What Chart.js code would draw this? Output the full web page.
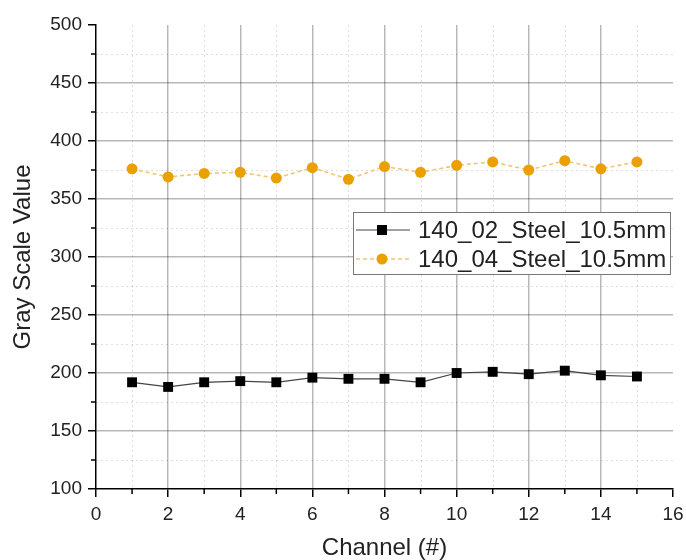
<!DOCTYPE html>
<html>
<head>
<meta charset="utf-8">
<script src="https://cdn.jsdelivr.net/npm/chart.js@4"></script>
<style>
  html, body { margin: 0; padding: 0; background: #fff; }
  #wrap { width: 686px; height: 560px; }
</style>
</head>
<body>
<div id="wrap"><canvas id="myChart" width="686" height="560"></canvas></div>
<script>
const channels = [1, 2, 3, 4, 5, 6, 7, 8, 9, 10, 11, 12, 13, 14, 15];
const steel02 = [192, 188, 192, 193, 192, 196, 195, 195, 192, 200, 201, 199, 202, 198, 197];
const steel04 = [376, 369, 372, 373, 368, 377, 367, 378, 373, 379, 382, 375, 383, 376, 382];
const seriesNames = ['140_02_Steel_10.5mm', '140_04_Steel_10.5mm'];

const FONT = "'Liberation Sans', Arial, sans-serif";
const majorGrid = 'rgba(0,0,0,0.28)';
const minorGrid = 'rgba(0,0,0,0.13)';

// dotted minor grid + short minor ticks
const minorLayer = {
    id: 'minorLayer',
    beforeDatasetsDraw: (chart) => {
        const { ctx, chartArea: { top, bottom, left, right }, scales: { x, y } } = chart;
        ctx.save();
        ctx.strokeStyle = minorGrid;
        ctx.lineWidth = 1;
        ctx.setLineDash([2, 3]);
        for (let v = 1; v < 16; v += 2) {
            const px = Math.round(x.getPixelForValue(v)) + 0.5;
            ctx.beginPath();
            ctx.moveTo(px, top);
            ctx.lineTo(px, bottom);
            ctx.stroke();
        }
        for (let v = 125; v < 500; v += 50) {
            const py = Math.round(y.getPixelForValue(v)) + 0.5;
            ctx.beginPath();
            ctx.moveTo(left, py);
            ctx.lineTo(right, py);
            ctx.stroke();
        }
        ctx.setLineDash([]);
        ctx.strokeStyle = '#000';
        ctx.lineWidth = 1.5;
        for (let v = 1; v < 16; v += 2) {
            const px = x.getPixelForValue(v);
            ctx.beginPath();
            ctx.moveTo(px, bottom);
            ctx.lineTo(px, bottom + 5);
            ctx.stroke();
        }
        for (let v = 125; v < 500; v += 50) {
            const py = y.getPixelForValue(v);
            ctx.beginPath();
            ctx.moveTo(left, py);
            ctx.lineTo(left - 5, py);
            ctx.stroke();
        }
        ctx.restore();
    }
};

// boxed legend inside the plot
const boxLegend = {
    id: 'boxLegend',
    afterDraw: (chart) => {
        const { ctx } = chart;
        const bx = 353, by = 212, bw = 317, bh = 62;
        ctx.save();
        ctx.fillStyle = '#fff';
        ctx.fillRect(bx, by, bw, bh);
        ctx.strokeStyle = '#777';
        ctx.lineWidth = 1;
        ctx.strokeRect(bx + 0.5, by + 0.5, bw, bh);
        chart.data.datasets.forEach((ds, i) => {
            const cy = by + 18 + i * 29;
            ctx.strokeStyle = ds.borderColor;
            ctx.lineWidth = ds.borderWidth;
            ctx.setLineDash(ds.borderDash || []);
            ctx.beginPath();
            ctx.moveTo(bx + 3, cy);
            ctx.lineTo(bx + 57, cy);
            ctx.stroke();
            ctx.setLineDash([]);
            ctx.fillStyle = ds.pointBackgroundColor;
            if (ds.pointStyle === 'rect') {
                ctx.fillRect(bx + 29 - 5, cy - 5, 10, 10);
            } else {
                ctx.beginPath();
                ctx.arc(bx + 29, cy, 5.5, 0, Math.PI * 2);
                ctx.fill();
            }
            ctx.fillStyle = '#222';
            ctx.font = '24px ' + FONT;
            ctx.textBaseline = 'middle';
            ctx.fillText(ds.label, bx + 65, cy + 1);
        });
        ctx.restore();
    }
};

new Chart(document.getElementById('myChart'), {
    type: 'line',
    data: {
        datasets: [{
            label: seriesNames[0],
            data: channels.map((c, i) => ({ x: c, y: steel02[i] })),
            borderColor: '#444',
            borderWidth: 1.2,
            pointStyle: 'rect',
            pointRadius: 7,
            pointBackgroundColor: '#000',
            pointBorderWidth: 0,
            fill: false
        }, {
            label: seriesNames[1],
            data: channels.map((c, i) => ({ x: c, y: steel04[i] })),
            borderColor: '#F3C56F',
            borderWidth: 1.6,
            borderDash: [4, 3],
            pointStyle: 'circle',
            pointRadius: 5.5,
            pointBackgroundColor: '#E9A000',
            pointBorderWidth: 0,
            fill: false
        }]
    },
    plugins: [minorLayer, boxLegend],
    options: {
        responsive: false,
        animation: false,
        layout: { padding: { left: 0, right: 13, top: 25, bottom: 0 } },
        plugins: {
            legend: { display: false },
            tooltip: { enabled: false }
        },
        scales: {
            x: {
                type: 'linear',
                min: 0,
                max: 16,
                afterBuildTicks: (scale) => {
                    scale.ticks = [];
                    for (let v = 0; v <= 16; v += 2) scale.ticks.push({ value: v });
                },
                afterFit: (scale) => {
                    scale.height = 71;
                    scale.paddingLeft = 0;
                    scale.paddingRight = 0;
                },
                border: { color: '#000', width: 1.5 },
                grid: {
                    color: (c) => (c.tick && (c.tick.value === 0 || c.tick.value === 16)) ? 'transparent' : majorGrid,
                    lineWidth: 1.5,
                    tickColor: '#000',
                    tickLength: 8,
                    tickWidth: 1.5
                },
                ticks: {
                    autoSkip: false,
                    maxRotation: 0,
                    padding: 6,
                    color: '#222',
                    font: { family: FONT, size: 19 }
                },
                title: {
                    display: true,
                    text: 'Channel (#)',
                    color: '#222',
                    font: { family: FONT, size: 24, lineHeight: 0.95 },
                    padding: { top: 0, bottom: 0 }
                }
            },
            y: {
                type: 'linear',
                min: 100,
                max: 500,
                afterBuildTicks: (scale) => {
                    scale.ticks = [];
                    for (let v = 100; v <= 500; v += 50) scale.ticks.push({ value: v });
                },
                afterFit: (scale) => {
                    scale.width = 96;
                    scale.paddingTop = 0;
                    scale.paddingBottom = 0;
                },
                border: { color: '#000', width: 1.5 },
                grid: {
                    color: (c) => (c.tick && (c.tick.value === 100 || c.tick.value === 500)) ? 'transparent' : majorGrid,
                    lineWidth: 1.5,
                    tickColor: '#000',
                    tickLength: 8,
                    tickWidth: 1.5
                },
                ticks: {
                    autoSkip: false,
                    padding: 6,
                    color: '#222',
                    font: { family: FONT, size: 19 }
                },
                title: {
                    display: true,
                    text: 'Gray Scale Value',
                    color: '#222',
                    font: { family: FONT, size: 24, lineHeight: 1 },
                    padding: { top: 11, bottom: 0 }
                }
            }
        }
    }
});
</script>
</body>
</html>
